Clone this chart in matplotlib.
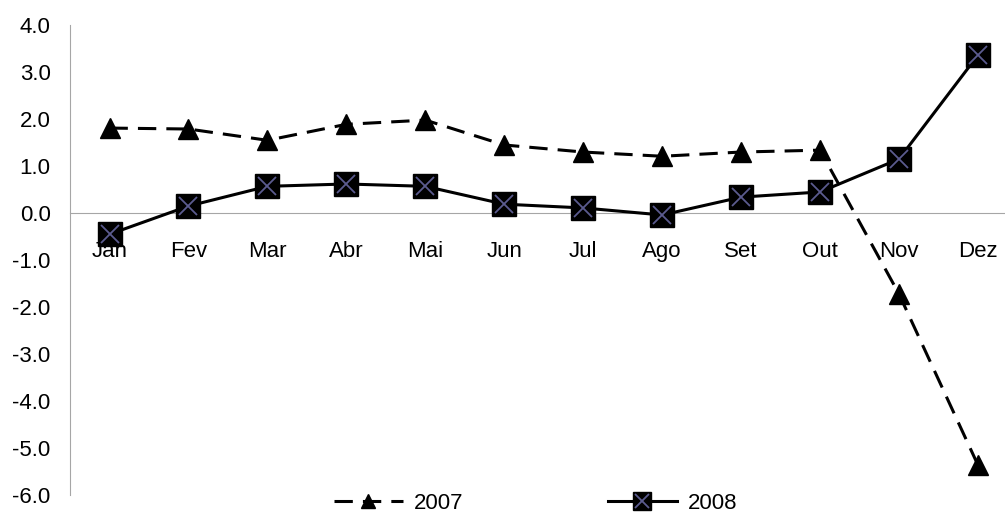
import matplotlib.pyplot as plt
import numpy as np

plt.rcParams['font.family'] = ['Liberation Sans', 'DejaVu Sans']

meses = ['Jan', 'Fev', 'Mar', 'Abr', 'Mai', 'Jun', 'Jul', 'Ago', 'Set', 'Out', 'Nov', 'Dez']
v2007 = [1.81, 1.79, 1.55, 1.89, 1.98, 1.45, 1.30, 1.21, 1.30, 1.34, -1.72, -5.36]
v2008 = [-0.45, 0.15, 0.57, 0.62, 0.57, 0.19, 0.11, -0.04, 0.34, 0.45, 1.15, 3.36]
yticks = np.arange(-6.0, 4.01, 1.0)

fig = plt.figure(figsize=(10.05, 5.14), dpi=100)
ax = fig.add_axes([0.0697, 0.037, 0.9426, 0.914])

x = np.arange(len(meses))

l07, = ax.plot(x, v2007, color='black', lw=2.2, dashes=(6, 3.3),
               marker='^', markersize=14, markerfacecolor='black',
               markeredgecolor='black', zorder=3)
l08, = ax.plot(x, v2008, color='black', lw=2.2,
               marker='s', markersize=17, markerfacecolor='black',
               markeredgecolor='black', zorder=4)
x08, = ax.plot(x, v2008, ls='none', marker='x', markersize=13,
               markeredgewidth=1.3, color='#5b5b8f', zorder=5)

ax.set_xlim(-0.5, 11.5)
ax.set_ylim(-6.0, 4.0)
ax.set_yticks(yticks)
ax.set_yticklabels([f'{v:.1f}' for v in yticks])
ax.tick_params(axis='y', length=0, pad=14, labelsize=16)
ax.set_xticks(x)
ax.set_xticklabels(meses)
ax.tick_params(axis='x', length=0, pad=20, labelsize=16)

for s in ['top', 'right']:
    ax.spines[s].set_visible(False)
ax.spines['bottom'].set_position(('data', 0))
ax.spines['bottom'].set_color('#a6a6a6')
ax.spines['left'].set_color('#a6a6a6')

ax.legend([l07, (l08, x08)], ['2007', '2008'], loc='center',
          bbox_to_anchor=(0.533, 0.021), bbox_transform=fig.transFigure,
          ncol=2, frameon=False, fontsize=16, columnspacing=6.5,
          handlelength=3.1, handletextpad=0.5, borderpad=0,
          markerscale=0.75)

fig.savefig('out.png', dpi=100)
